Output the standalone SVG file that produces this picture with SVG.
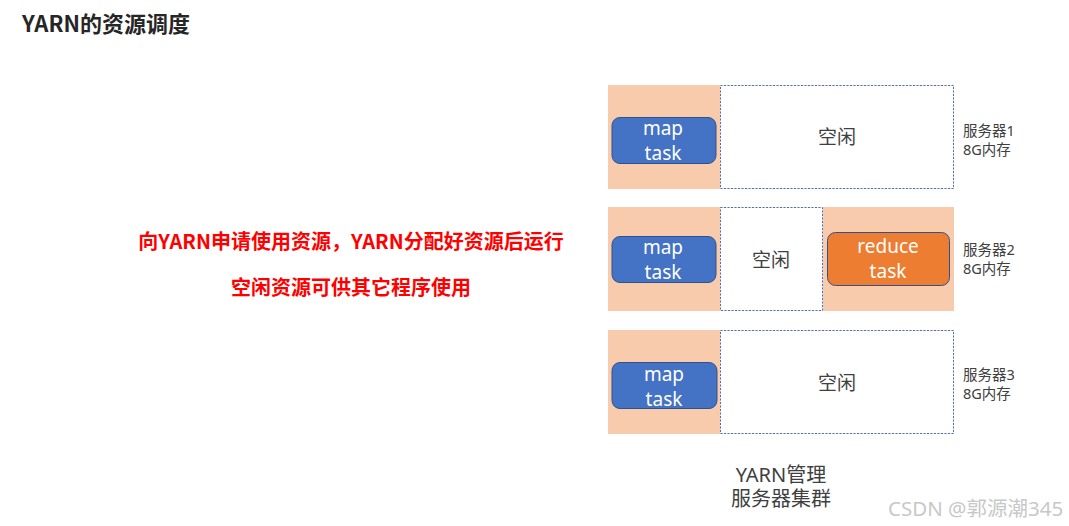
<svg xmlns="http://www.w3.org/2000/svg" width="1069" height="526" viewBox="0 0 1069 526">
<defs>
<style>
.peach{fill:#f8cbad;}
.idle{fill:#fff;stroke:#4472c4;stroke-width:1;stroke-dasharray:2 1.5;}
.map{fill:#4472c4;stroke:#2f528f;stroke-width:1;}
.red{fill:#ed7d31;stroke:#2f528f;stroke-width:1;}
.tt{font-family:"Noto Sans","Noto Sans CJK SC",sans-serif;font-size:19px;fill:#fff;text-anchor:middle;}
.it{font-family:"Noto Sans CJK SC",sans-serif;font-size:19px;fill:#404040;text-anchor:middle;}
.cl{font-family:"Noto Sans","Noto Sans CJK SC",sans-serif;font-size:20px;fill:#404040;text-anchor:middle;}
.sv{font-family:"Noto Sans","Noto Sans CJK SC",sans-serif;font-size:14.5px;fill:#404040;}
.note{font-family:"Noto Sans CJK SC",sans-serif;font-size:20px;font-weight:bold;fill:#ff0000;text-anchor:middle;}
</style>
</defs>
<rect width="1069" height="526" fill="#fff"/>
<text x="22" y="32" font-family="Noto Sans CJK SC, sans-serif" font-size="22" font-weight="bold" fill="#262626">YARN的资源调度</text>
<g id="note">
<text class="note" x="351" y="249">向YARN申请使用资源，YARN分配好资源后运行</text>
<text class="note" x="351" y="295">空闲资源可供其它程序使用</text>
</g>
<g id="server1">
<rect class="peach" x="608" y="85" width="346" height="104"/>
<rect class="idle" x="720.5" y="85.5" width="233" height="103"/>
<text class="it" x="837" y="144">空闲</text>
<rect class="map" x="612" y="117.5" width="104" height="46" rx="8"/>
<text class="tt" x="663" y="135">map</text>
<text class="tt" x="663" y="160">task</text>
<text class="sv" x="963" y="136">服务器1</text>
<text class="sv" x="963" y="155">8G内存</text>
</g>
<g id="server2">
<rect class="peach" x="608" y="207" width="346" height="104"/>
<rect class="idle" x="720.5" y="207.5" width="102" height="103"/>
<text class="it" x="771" y="267">空闲</text>
<rect class="map" x="612" y="236.5" width="104" height="46" rx="8"/>
<text class="tt" x="663" y="254">map</text>
<text class="tt" x="663" y="279">task</text>
<rect class="red" x="827.5" y="232.5" width="122" height="53" rx="8"/>
<text class="tt" x="888" y="253">reduce</text>
<text class="tt" x="888" y="278">task</text>
<text class="sv" x="963" y="255">服务器2</text>
<text class="sv" x="963" y="274">8G内存</text>
</g>
<g id="server3">
<rect class="peach" x="608" y="330" width="346" height="104"/>
<rect class="idle" x="720.5" y="330.5" width="233" height="103"/>
<text class="it" x="837" y="390">空闲</text>
<rect class="map" x="612" y="362.5" width="105" height="46" rx="8"/>
<text class="tt" x="664" y="381">map</text>
<text class="tt" x="664" y="406">task</text>
<text class="sv" x="963" y="380">服务器3</text>
<text class="sv" x="963" y="399">8G内存</text>
</g>
<g id="cluster">
<text class="cl" x="781" y="482">YARN管理</text>
<text class="cl" x="781" y="506">服务器集群</text>
</g>
<g id="connectors"></g>
<text x="888" y="516" font-family="Noto Sans, Noto Sans CJK SC, sans-serif" font-size="20.5" fill="#c8c8c8">CSDN @郭源潮345</text>
</svg>
